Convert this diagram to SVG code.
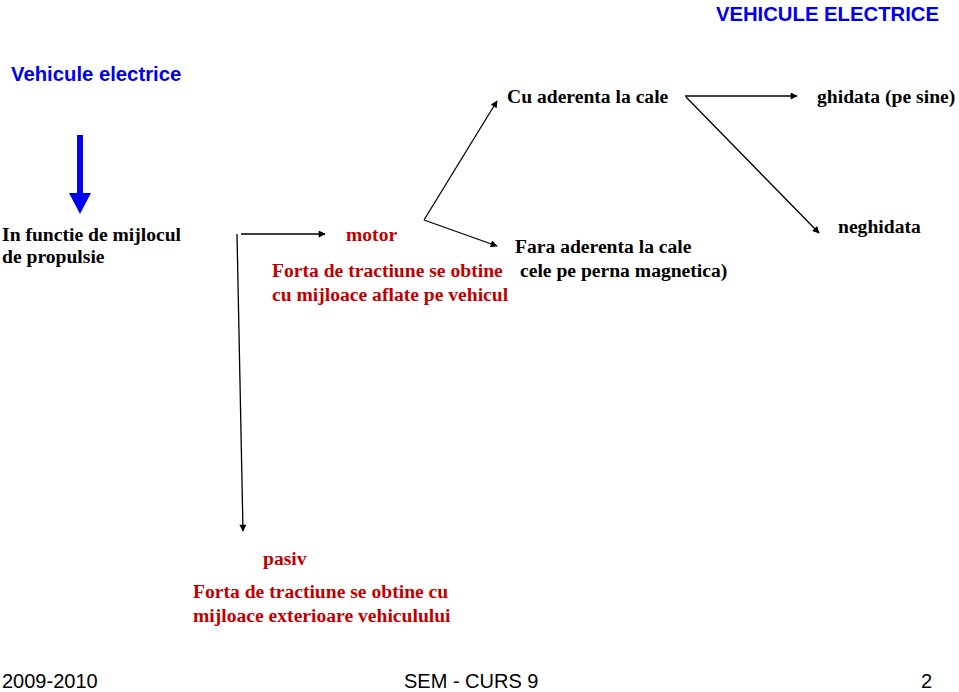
<svg xmlns="http://www.w3.org/2000/svg" width="959" height="692" viewBox="0 0 959 692">
<defs>
<marker id="ah" viewBox="0 0 10 10" refX="9" refY="5" markerWidth="9" markerHeight="7" markerUnits="userSpaceOnUse" orient="auto"><path d="M0,0 L10,5 L0,10 z" fill="#000"/></marker>
</defs>
<style>
.s{font-family:"Liberation Serif",serif;font-weight:bold;font-size:19.6px}
.k{fill:#000}.r{fill:#c00000}
.b{font-family:"Liberation Sans",sans-serif;font-weight:bold;font-size:20.3px;fill:#0000ee}
.f{font-family:"Liberation Sans",sans-serif;font-size:20px;fill:#000}
.c{stroke:#000;stroke-width:1.3;fill:none}
</style>
<rect width="959" height="692" fill="#fff"/>
<g id="title"><text class="b" x="939" y="21" text-anchor="end">VEHICULE ELECTRICE</text></g>
<g id="n-vehicule"><text class="b" x="11" y="81">Vehicule electrice</text></g>
<g id="n-functie"><text class="s k" x="2" y="241">In functie de mijlocul</text><text class="s k" x="2" y="263">de propulsie</text></g>
<g id="n-motor"><text class="s r" x="346" y="241">motor</text><text class="s r" x="272" y="277">Forta de tractiune se obtine</text><text class="s r" x="272" y="301">cu mijloace aflate pe vehicul</text></g>
<g id="n-cu"><text class="s k" x="507" y="103">Cu aderenta la cale</text></g>
<g id="n-ghidata"><text class="s k" x="817" y="103">ghidata (pe sine)</text></g>
<g id="n-neghidata"><text class="s k" x="838" y="233">neghidata</text></g>
<g id="n-fara"><text class="s k" x="515" y="253">Fara aderenta la cale</text><text class="s k" x="520" y="277">cele pe perna magnetica)</text></g>
<g id="n-pasiv"><text class="s r" x="263" y="565">pasiv</text><text class="s r" x="193" y="598">Forta de tractiune se obtine cu</text><text class="s r" x="193" y="622">mijloace exterioare vehiculului</text></g>
<g id="footer"><text class="f" x="2" y="688">2009-2010</text><text class="f" x="404" y="688">SEM - CURS 9</text><text class="f" x="932" y="688" text-anchor="end">2</text></g>
<g id="connectors">
<line x1="80" y1="135" x2="80" y2="195" stroke="#0000ee" stroke-width="6"/>
<path d="M69,193 L91,193 L80,214 z" fill="#0000ee"/>
<line class="c" x1="241" y1="234" x2="325" y2="234" marker-end="url(#ah)"/>
<line class="c" x1="237" y1="234" x2="243" y2="531" marker-end="url(#ah)"/>
<line class="c" x1="424" y1="220" x2="497" y2="101" marker-end="url(#ah)"/>
<line class="c" x1="424" y1="220" x2="497" y2="246" marker-end="url(#ah)"/>
<line class="c" x1="685" y1="96" x2="797" y2="96" marker-end="url(#ah)"/>
<line class="c" x1="686" y1="97" x2="819" y2="233" marker-end="url(#ah)"/>
</g>
</svg>
